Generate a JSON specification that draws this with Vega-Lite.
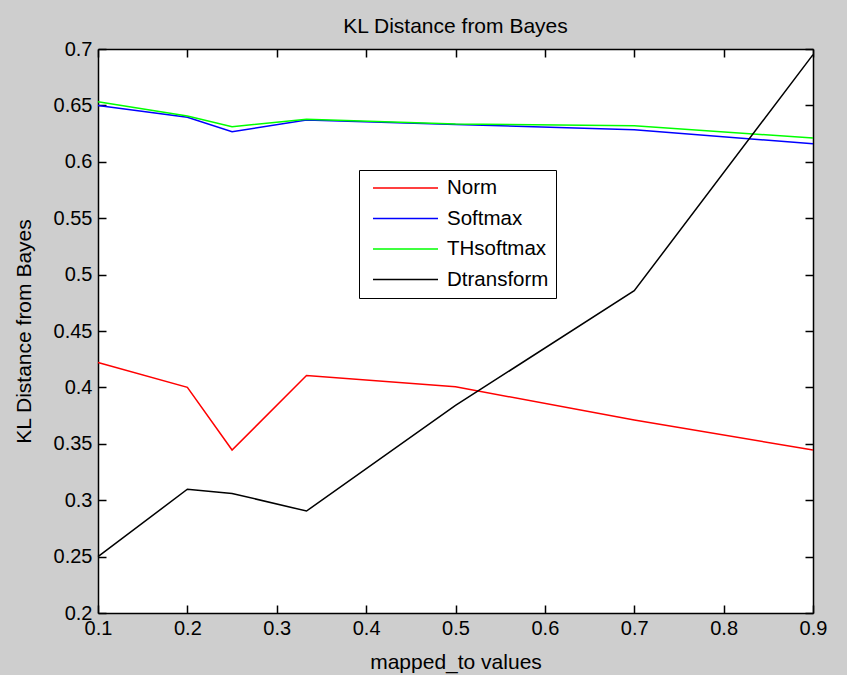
{
  "$schema": "https://vega.github.io/schema/vega-lite/v6.json",
  "width": 715,
  "height": 564,
  "autosize": {"type": "none"},
  "padding": {"left": 98, "top": 49, "right": 34, "bottom": 62},
  "background": "#cecece",
  "config": {
    "view": {"fill": "white", "stroke": null},
    "font": "Liberation Sans",
    "axis": {
      "domainColor": "black",
      "domainWidth": 1.5,
      "tickColor": "black",
      "tickWidth": 1.5,
      "labelColor": "black",
      "titleColor": "black",
      "labelFontSize": 20,
      "titleFontSize": 21,
      "titleFontWeight": "normal",
      "labelFont": "Liberation Sans",
      "titleFont": "Liberation Sans",
      "labelFlush": false,
      "grid": false,
      "tickSize": -8
    }
  },
  "title": {
    "text": "KL Distance from Bayes",
    "fontSize": 21,
    "fontWeight": "normal",
    "font": "Liberation Sans",
    "color": "black",
    "offset": 2
  },
  "data": {
    "values": [
      {"x": 0.1, "series": "Norm", "kl": 0.422},
      {"x": 0.2, "series": "Norm", "kl": 0.4},
      {"x": 0.25, "series": "Norm", "kl": 0.3445},
      {"x": 0.3333, "series": "Norm", "kl": 0.4105},
      {"x": 0.5, "series": "Norm", "kl": 0.4005},
      {"x": 0.7, "series": "Norm", "kl": 0.371},
      {"x": 0.9, "series": "Norm", "kl": 0.3445},
      {"x": 0.1, "series": "Softmax", "kl": 0.65},
      {"x": 0.2, "series": "Softmax", "kl": 0.6395},
      {"x": 0.25, "series": "Softmax", "kl": 0.6267},
      {"x": 0.3333, "series": "Softmax", "kl": 0.637},
      {"x": 0.5, "series": "Softmax", "kl": 0.633},
      {"x": 0.7, "series": "Softmax", "kl": 0.6285},
      {"x": 0.9, "series": "Softmax", "kl": 0.616},
      {"x": 0.1, "series": "THsoftmax", "kl": 0.6533},
      {"x": 0.2, "series": "THsoftmax", "kl": 0.6406},
      {"x": 0.25, "series": "THsoftmax", "kl": 0.6311},
      {"x": 0.3333, "series": "THsoftmax", "kl": 0.6377},
      {"x": 0.5, "series": "THsoftmax", "kl": 0.6335},
      {"x": 0.7, "series": "THsoftmax", "kl": 0.632},
      {"x": 0.9, "series": "THsoftmax", "kl": 0.621},
      {"x": 0.1, "series": "Dtransform", "kl": 0.25},
      {"x": 0.2, "series": "Dtransform", "kl": 0.3097},
      {"x": 0.25, "series": "Dtransform", "kl": 0.306},
      {"x": 0.3333, "series": "Dtransform", "kl": 0.2904},
      {"x": 0.5, "series": "Dtransform", "kl": 0.384},
      {"x": 0.7, "series": "Dtransform", "kl": 0.4857},
      {"x": 0.9, "series": "Dtransform", "kl": 0.695}
    ]
  },
  "layer": [
    {
      "mark": {"type": "line", "strokeWidth": 1.5},
      "encoding": {
        "x": {
          "field": "x",
          "type": "quantitative",
          "scale": {"domain": [0.1, 0.9], "nice": false, "zero": false},
          "axis": {
            "values": [0.1, 0.2, 0.3, 0.4, 0.5, 0.6, 0.7, 0.8, 0.9],
            "format": ".1f",
            "title": "mapped_to values",
            "labelPadding": 13,
            "titlePadding": 13
          }
        },
        "y": {
          "field": "kl",
          "type": "quantitative",
          "scale": {"domain": [0.2, 0.7], "nice": false, "zero": false},
          "axis": {
            "values": [0.2, 0.25, 0.3, 0.35, 0.4, 0.45, 0.5, 0.55, 0.6, 0.65, 0.7],
            "format": ".2~f",
            "title": "KL Distance from Bayes",
            "labelPadding": 14,
            "titlePadding": 19
          }
        },
        "color": {
          "field": "series",
          "type": "nominal",
          "scale": {
            "domain": ["Norm", "Softmax", "THsoftmax", "Dtransform"],
            "range": ["#ff0000", "#0000ff", "#00ff00", "#000000"]
          },
          "legend": {
            "orient": "none",
            "legendX": 261,
            "legendY": 121,
            "title": null,
            "symbolType": "stroke",
            "symbolSize": 4225,
            "symbolStrokeWidth": 1.5,
            "symbolOffset": 6,
            "labelFontSize": 20.5,
            "labelFont": "Liberation Sans",
            "labelColor": "black",
            "labelOffset": 8,
            "strokeColor": "black",
            "fillColor": "white",
            "padding": 7,
            "clipHeight": 22,
            "rowPadding": 8.5
          }
        }
      }
    },
    {
      "mark": {"type": "line", "opacity": 0},
      "encoding": {
        "x": {
          "field": "x",
          "type": "quantitative",
          "axis": {
            "orient": "top",
            "values": [0.1, 0.2, 0.3, 0.4, 0.5, 0.6, 0.7, 0.8, 0.9],
            "labels": false,
            "title": null
          }
        },
        "y": {
          "field": "kl",
          "type": "quantitative",
          "axis": {
            "orient": "right",
            "values": [0.2, 0.25, 0.3, 0.35, 0.4, 0.45, 0.5, 0.55, 0.6, 0.65, 0.7],
            "labels": false,
            "title": null
          }
        },
        "detail": {"field": "series"}
      }
    }
  ],
  "resolve": {"axis": {"x": "independent", "y": "independent"}}
}
